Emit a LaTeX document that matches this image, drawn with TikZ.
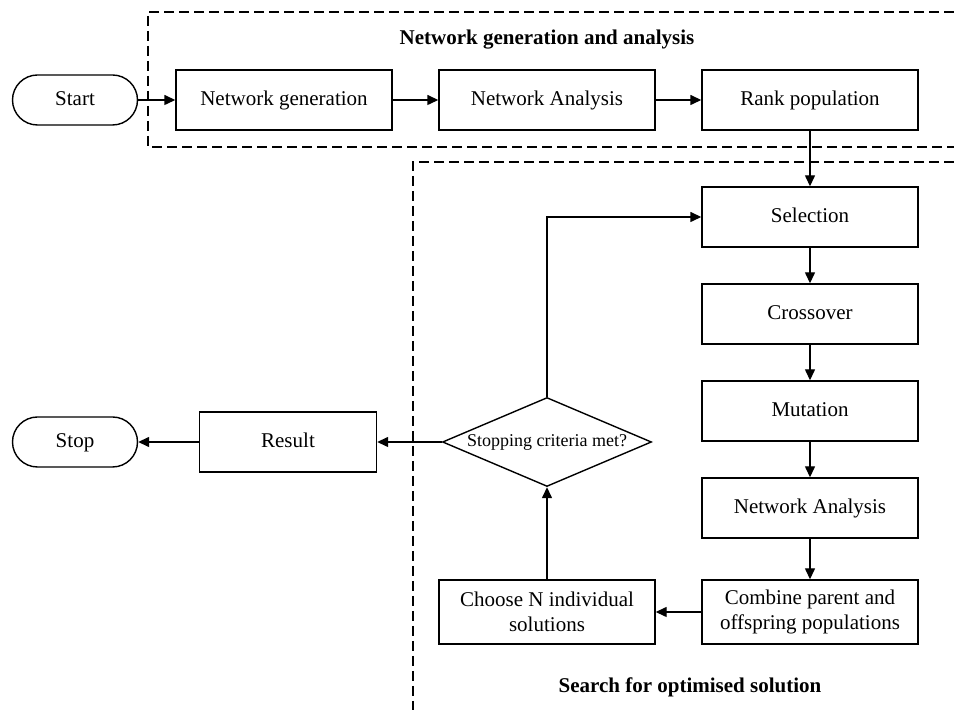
\documentclass[tikz,border=0pt]{standalone}
\usepackage{fontspec}
\setmainfont{Liberation Serif}
\usetikzlibrary{arrows.meta, positioning, shapes.geometric}

\begin{document}
\begin{tikzpicture}[x=0.5pt, y=-0.5pt, node distance={131.5pt}, on grid,
	font=\fontsize{10.5}{12.5}\selectfont, line width=0.7pt,
	>={Triangle[length=5.5pt,width=5pt]},
	stepbox/.style = {draw, rectangle, minimum width=108pt, minimum height=30pt, text height=1.6ex, text depth=.4ex},
	twoline/.style = {draw, rectangle, minimum width=108pt, minimum height=32pt, align=center},
	term/.style = {draw, rectangle, rounded corners=12.5pt, minimum width=62.5pt, minimum height=25pt, text height=1.6ex, text depth=.4ex},
	decision/.style = {draw, diamond, minimum width=104.5pt, minimum height=44.5pt, inner sep=0pt},
	frame/.style = {dash pattern=on 5pt off 2.5pt, line width=0.6pt},
	title/.style = {font=\fontsize{10.5}{12.5}\selectfont\bfseries}]
	\useasboundingbox (0,0) rectangle (954,710);
	% dashed frames, open to the right
	\draw[frame] (954,12) -- (148,12) -- (148,147) -- (954,147);
	\draw[frame] (954,162) -- (413,162) -- (413,710);
	\node[title] (t1) at (547,40) {Network generation and analysis};
	\node[title] (t2) at (690,687) {Search for optimised solution};
	% top row
	\node[term] (start) at (75,100) {Start};
	\node[stepbox] (gen) at (284,100) {Network generation};
	\node[stepbox] (ana) [right of=gen] {Network Analysis};
	\node[stepbox] (rank) [right of=ana] {Rank population};
	% genetic loop
	\node[stepbox] (sel) at (810,217) {Selection};
	\node[stepbox] (cross) [below=48.5pt of sel] {Crossover};
	\node[stepbox] (mut) [below=48.5pt of cross] {Mutation};
	\node[stepbox] (ana2) [below=48.5pt of mut] {Network Analysis};
	\node[twoline] (comb) at (810,612) {Combine parent and\\offspring populations};
	\node[twoline] (choose) at (547,612) {Choose N individual\\solutions};
	\node[decision, label={[font=\fontsize{9}{11}\selectfont]center:Stopping criteria met?}] (stop?) at (547,442) {};
	\node[stepbox, minimum width=88.5pt] (res) at (288,442) {Result};
	\node[term] (stop) at (75,442) {Stop};
	\path[->,draw]
	(start) edge (gen)
	(gen) edge (ana)
	(ana) edge (rank)
	(rank) edge (sel)
	(sel) edge (cross)
	(cross) edge (mut)
	(mut) edge (ana2)
	(ana2) edge (comb)
	(comb) edge (choose)
	(choose) edge (stop?)
	(stop?) edge (res)
	(res) edge (stop);
	\draw[->] (stop?) |- (sel);
\end{tikzpicture}
\end{document}
